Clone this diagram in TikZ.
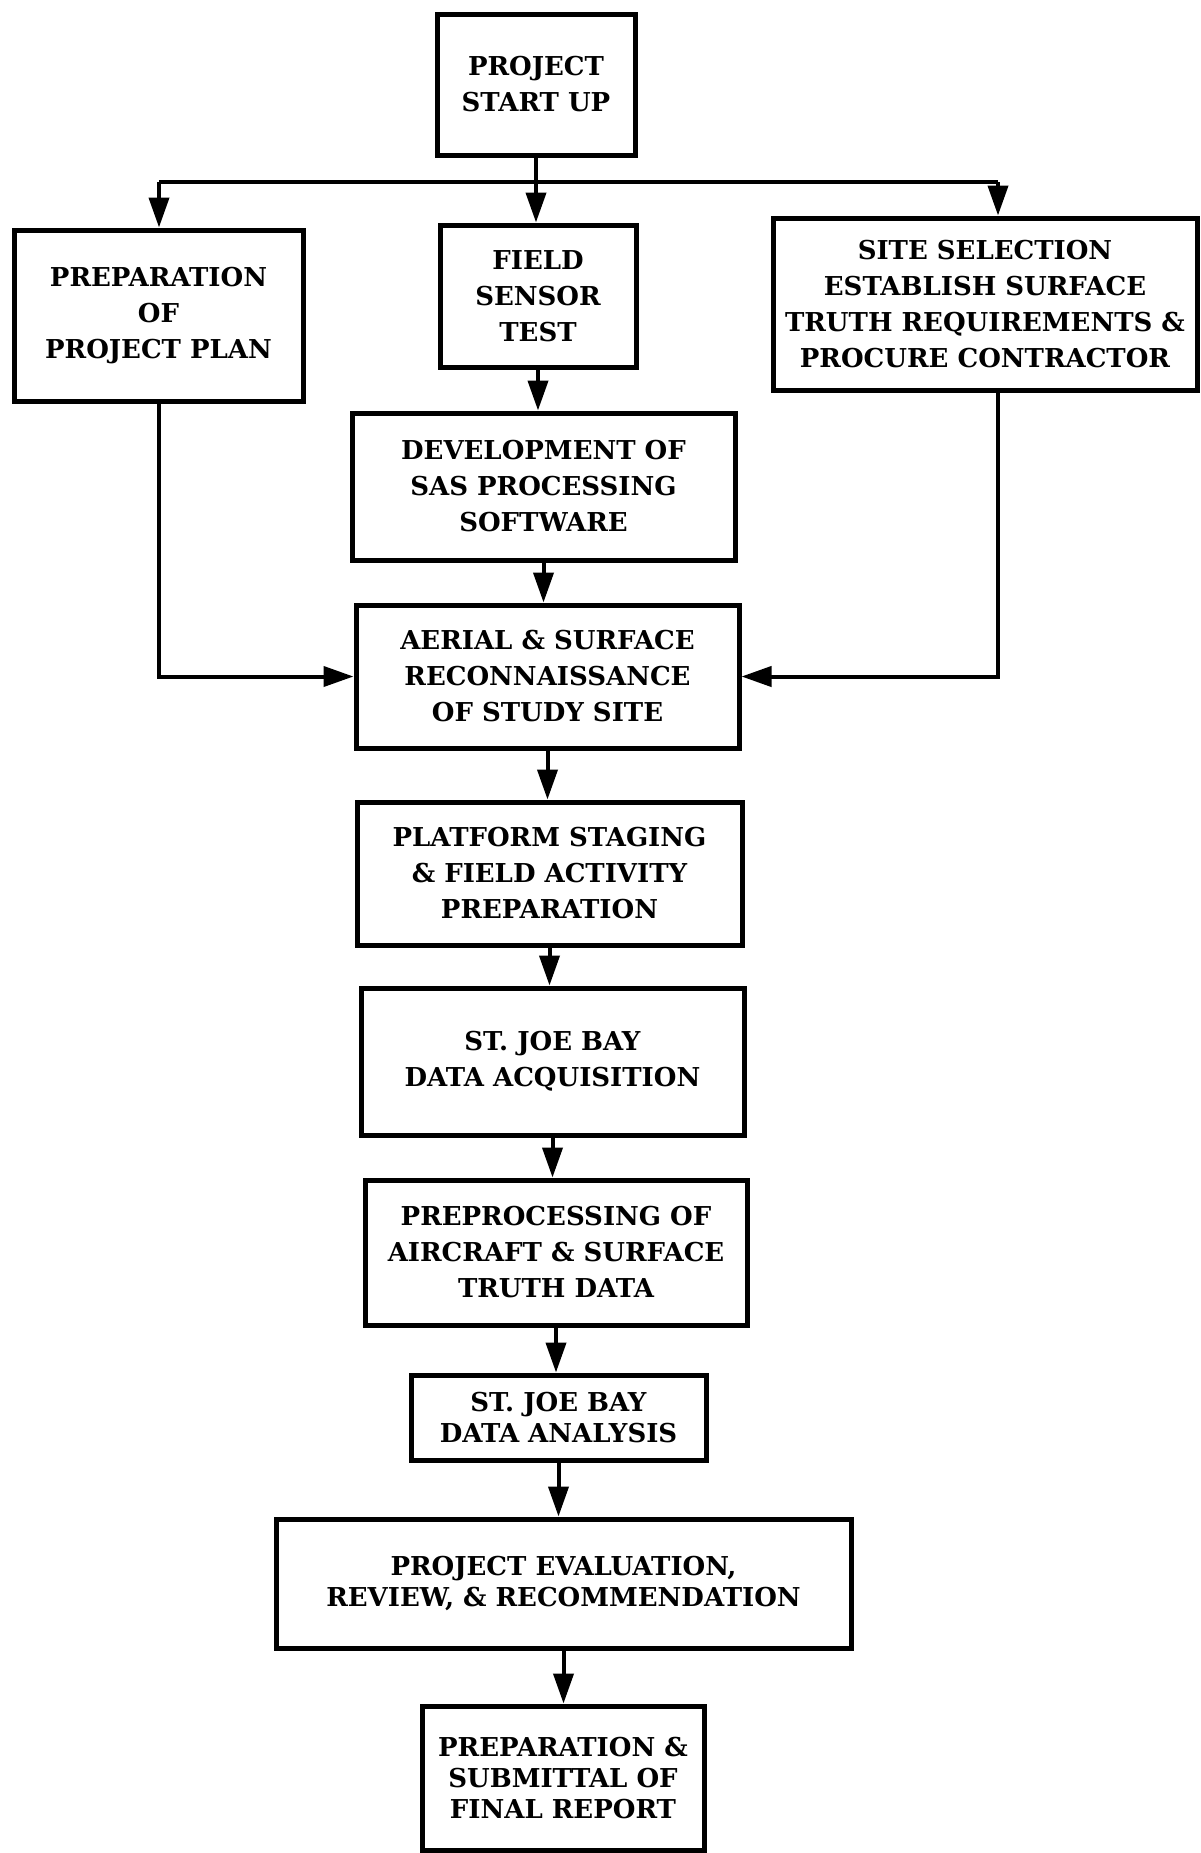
\documentclass[tikz,border=0pt]{standalone}
\usepackage{fontspec}
\setmainfont{DejaVu Serif}
\usetikzlibrary{arrows.meta}
\begin{document}
\begin{tikzpicture}[x=1pt,y=-1pt,
  box/.style={draw=black, line width=5pt, rectangle, align=center, inner sep=0pt,
    font=\bfseries\fontsize{26}{36}\selectfont},
  smallbox/.style={box, font=\bfseries\fontsize{26}{31}\selectfont},
  conn/.style={draw=black, line width=4pt},
  arr/.style={conn, -{Triangle[length=30pt,width=20pt]}}]
\useasboundingbox[fill=white] (0,0) rectangle (1201,1853);
% boxes
\node[box, minimum width=198pt, minimum height=141pt] (start) at (536,84.5) {PROJECT\\START UP};
\node[box, minimum width=289pt, minimum height=171pt] (plan) at (158.5,315.5) {PREPARATION\\OF\\PROJECT PLAN};
\node[box, minimum width=196pt, minimum height=142pt] (field) at (538,296) {FIELD\\SENSOR\\TEST};
\node[box, minimum width=424pt, minimum height=172pt] (site) at (985,304) {SITE SELECTION\\ESTABLISH SURFACE\\TRUTH REQUIREMENTS \&\\PROCURE CONTRACTOR};
\node[box, minimum width=383pt, minimum height=147pt] (dev) at (543.5,486.5) {DEVELOPMENT OF\\SAS PROCESSING\\SOFTWARE};
\node[box, minimum width=383pt, minimum height=143pt] (aerial) at (547.5,676.5) {AERIAL \& SURFACE\\RECONNAISSANCE\\OF STUDY SITE};
\node[box, minimum width=385pt, minimum height=143pt] (platform) at (549.5,873.5) {PLATFORM STAGING\\\& FIELD ACTIVITY\\PREPARATION};
\node[box, minimum width=383pt, minimum height=147pt] (acq) at (552.5,1061.5) {ST. JOE BAY\\DATA ACQUISITION};
\node[box, minimum width=382pt, minimum height=145pt] (prep) at (556,1252.5) {PREPROCESSING OF\\AIRCRAFT \& SURFACE\\TRUTH DATA};
\node[smallbox, minimum width=295pt, minimum height=85pt] (anal) at (558.5,1417.5) {ST. JOE BAY\\DATA ANALYSIS};
\node[smallbox, minimum width=575pt, minimum height=129pt] (eval) at (563.5,1583.5) {PROJECT EVALUATION,\\REVIEW, \& RECOMMENDATION};
\node[smallbox, minimum width=282pt, minimum height=144pt] (final) at (563,1778) {PREPARATION \&\\SUBMITTAL OF\\FINAL REPORT};
% bus
\coordinate (bl) at (159,182);
\coordinate (br) at (998,182);
\draw[conn] (bl) -- (br);
\draw[arr] (bl) -- (bl |- plan.north);
\draw[arr] (br) -- (br |- site.north);
\draw[arr] (start.south) -- (start.south |- field.north);
\draw[arr] (field.south) -- (field.south |- dev.north);
\draw[arr] (dev.south) -- (dev.south |- aerial.north);
\draw[arr] (plan.south) -- (plan.south |- aerial.west) -- (aerial.west);
\draw[arr] (br |- site.south) -- (br |- aerial.east) -- (aerial.east);
\draw[arr] (aerial.south) -- (aerial.south |- platform.north);
\draw[arr] (platform.south) -- (platform.south |- acq.north);
\draw[arr] (acq.south) -- (acq.south |- prep.north);
\draw[arr] (prep.south) -- (prep.south |- anal.north);
\draw[arr] (anal.south) -- (anal.south |- eval.north);
\draw[arr] (eval.south) -- (eval.south |- final.north);
\end{tikzpicture}
\end{document}
